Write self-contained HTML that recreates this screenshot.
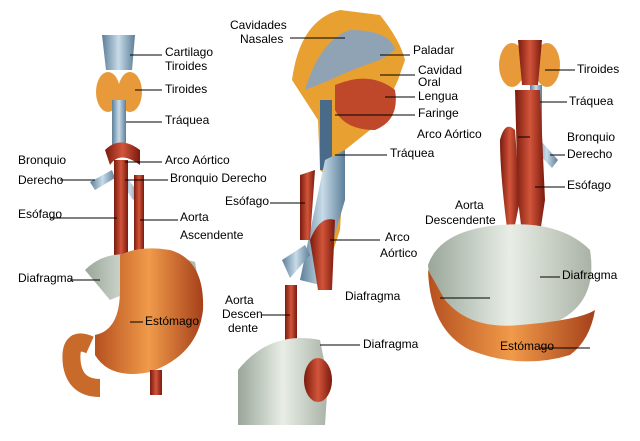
<!DOCTYPE html>
<html><head><meta charset="utf-8"><style>
html,body{margin:0;padding:0;background:#fff;}
#w{position:relative;width:640px;height:441px;overflow:hidden;font-family:"Liberation Sans",sans-serif;font-size:12px;color:#000;}
.t{position:absolute;white-space:nowrap;line-height:13px;}
svg{position:absolute;left:0;top:0;}
</style></head><body><div id="w">
<svg width="640" height="441" viewBox="0 0 640 441">
<defs>
<linearGradient id="or" x1="0" x2="1"><stop offset="0" stop-color="#b5501f"/><stop offset=".5" stop-color="#f09a4a"/><stop offset="1" stop-color="#a5401a"/></linearGradient>
<linearGradient id="rd" x1="0" x2="1"><stop offset="0" stop-color="#7a1a0e"/><stop offset=".5" stop-color="#d2553a"/><stop offset="1" stop-color="#7a1a0e"/></linearGradient>
<linearGradient id="bl" x1="0" x2="1"><stop offset="0" stop-color="#5c7f99"/><stop offset=".5" stop-color="#c8dbe8"/><stop offset="1" stop-color="#5c7f99"/></linearGradient>
<linearGradient id="gr" x1="0" x2="1"><stop offset="0" stop-color="#9aa69a"/><stop offset=".5" stop-color="#e8eee6"/><stop offset="1" stop-color="#aab2a6"/></linearGradient>
</defs>
<!-- LEFT figure -->
<path d="M102 35 L135 35 L132 70 L106 70 Z" fill="url(#bl)"/>
<ellipse cx="108" cy="92" rx="12" ry="20" fill="#e89a3a"/><ellipse cx="130" cy="92" rx="12" ry="20" fill="#e89a3a"/>
<rect x="112" y="100" width="14" height="45" fill="url(#bl)"/>
<path d="M105 150 Q120 135 140 150 L140 165 Q120 150 110 165Z" fill="url(#rd)"/>
<path d="M90 182 L112 170 L115 178 L95 190Z" fill="url(#bl)"/>
<path d="M125 175 L140 195 L133 200 L120 180Z" fill="url(#bl)"/>
<rect x="114" y="160" width="14" height="95" fill="url(#rd)"/>
<rect x="134" y="175" width="10" height="75" fill="url(#rd)"/>
<path d="M85 270 Q110 245 150 260 Q175 255 195 262 L200 290 Q170 275 110 300 Z" fill="url(#gr)"/>
<path d="M90 345 Q68 335 72 365 Q76 388 100 388" fill="none" stroke="#c86a2a" stroke-width="18"/>
<path d="M120 255 Q140 245 170 250 Q205 260 203 310 Q198 355 150 372 Q110 380 95 355 L95 335 Q120 330 120 290 Z" fill="url(#or)"/>
<rect x="150" y="370" width="12" height="25" fill="url(#rd)"/>
<!-- MIDDLE figure -->
<path d="M292 80 Q300 20 340 10 L380 15 Q400 40 405 60 L398 80 Q380 120 370 130 L345 150 L340 230 L330 260 L330 180 L320 170 L318 120 Z" fill="#e8a030"/>
<path d="M305 90 Q320 40 350 30 Q390 30 395 50 L380 60 Q350 70 330 80 Z" fill="#8fa3b4"/>
<path d="M335 85 Q370 70 395 90 Q400 120 375 130 Q345 130 335 110 Z" fill="#c0482a"/>
<rect x="320" y="100" width="12" height="70" fill="#4a6a8a"/>
<path d="M325 160 L345 150 L345 200 L320 285 L300 280 Z" fill="url(#bl)"/>
<path d="M300 175 L315 170 L310 240 L300 240Z" fill="url(#rd)"/>
<path d="M310 240 Q320 215 335 220 L332 290 L318 290Z" fill="url(#rd)"/>
<path d="M282 260 L305 245 L310 255 L290 278Z" fill="url(#bl)"/>
<rect x="285" y="285" width="12" height="55" fill="url(#rd)"/>
<path d="M238 370 Q270 330 320 340 L328 380 L325 425 L238 425 Z" fill="url(#gr)"/>
<ellipse cx="318" cy="380" rx="14" ry="22" fill="url(#rd)"/>
<!-- RIGHT figure -->
<ellipse cx="512" cy="65" rx="13" ry="22" fill="#e89a3a"/><ellipse cx="547" cy="65" rx="13" ry="22" fill="#e89a3a"/>
<path d="M518 40 L542 40 L538 85 L522 85 Z" fill="url(#rd)"/>
<rect x="530" y="85" width="12" height="60" fill="url(#bl)"/>
<path d="M540 140 L558 160 L552 168 L535 150Z" fill="url(#bl)"/>
<path d="M500 140 Q505 120 515 130 L520 200 L510 250 Q500 180 500 140Z" fill="url(#rd)"/>
<path d="M515 90 L540 90 L545 200 L530 300 L518 200 Z" fill="url(#rd)"/>
<path d="M428 265 Q440 230 500 225 Q560 220 590 250 Q598 300 560 320 Q520 330 470 330 Q430 300 428 265Z" fill="url(#gr)"/>
<path d="M428 270 Q430 330 470 350 Q520 370 570 355 Q590 340 595 310 Q580 320 520 325 Q470 330 445 300 Z" fill="url(#or)"/>
<!-- leader lines -->
<g stroke="#000" stroke-width="1">
<line x1="130" y1="55" x2="162" y2="55"/><line x1="135" y1="90" x2="162" y2="90"/><line x1="126" y1="122" x2="162" y2="122"/>
<line x1="125" y1="162" x2="162" y2="162"/><line x1="125" y1="180" x2="168" y2="180"/><line x1="60" y1="180" x2="95" y2="180"/>
<line x1="50" y1="218" x2="117" y2="218"/><line x1="140" y1="220" x2="178" y2="220"/><line x1="70" y1="280" x2="100" y2="280"/>
<line x1="130" y1="322" x2="143" y2="322"/>
<line x1="290" y1="38" x2="345" y2="38"/><line x1="380" y1="55" x2="410" y2="55"/><line x1="380" y1="75" x2="415" y2="75"/>
<line x1="385" y1="97" x2="415" y2="97"/><line x1="335" y1="115" x2="415" y2="115"/><line x1="335" y1="155" x2="387" y2="155"/>
<line x1="270" y1="203" x2="305" y2="203"/><line x1="330" y1="240" x2="380" y2="240"/><line x1="290" y1="315" x2="262" y2="315"/>
<line x1="320" y1="345" x2="360" y2="345"/>
<line x1="545" y1="70" x2="575" y2="70"/><line x1="540" y1="102" x2="567" y2="102"/><line x1="518" y1="137" x2="530" y2="137"/>
<line x1="550" y1="155" x2="565" y2="155"/><line x1="535" y1="187" x2="565" y2="187"/><line x1="540" y1="277" x2="560" y2="277"/>
<line x1="440" y1="298" x2="490" y2="298"/><line x1="540" y1="348" x2="590" y2="348"/>
</g>
</svg>
<div class="t" style="left:230px;top:19px">Cavidades</div><div class="t" style="left:240px;top:33px">Nasales</div>
<div class="t" style="left:165px;top:46px">Cartilago</div><div class="t" style="left:165px;top:60px">Tiroides</div>
<div class="t" style="left:413px;top:44px">Paladar</div>
<div class="t" style="left:418px;top:64px">Cavidad</div><div class="t" style="left:418px;top:76px">Oral</div>
<div class="t" style="left:577px;top:63px">Tiroides</div>
<div class="t" style="left:165px;top:83px">Tiroides</div>
<div class="t" style="left:418px;top:90px">Lengua</div>
<div class="t" style="left:569px;top:95px">Tráquea</div>
<div class="t" style="left:418px;top:107px">Faringe</div>
<div class="t" style="left:165px;top:114px">Tráquea</div>
<div class="t" style="left:567px;top:131px">Bronquio</div><div class="t" style="left:567px;top:148px">Derecho</div>
<div class="t" style="left:417px;top:128px">Arco Aórtico</div>
<div class="t" style="left:390px;top:147px">Tráquea</div>
<div class="t" style="left:18px;top:154px">Bronquio</div><div class="t" style="left:18px;top:174px">Derecho</div>
<div class="t" style="left:165px;top:154px">Arco Aórtico</div>
<div class="t" style="left:170px;top:172px">Bronquio Derecho</div>
<div class="t" style="left:567px;top:179px">Esófago</div>
<div class="t" style="left:225px;top:195px">Esófago</div>
<div class="t" style="left:18px;top:208px">Esófago</div>
<div class="t" style="left:180px;top:211px">Aorta</div><div class="t" style="left:180px;top:229px">Ascendente</div>
<div class="t" style="left:455px;top:199px">Aorta</div><div class="t" style="left:425px;top:214px">Descendente</div>
<div class="t" style="left:385px;top:231px">Arco</div><div class="t" style="left:380px;top:247px">Aórtico</div>
<div class="t" style="left:18px;top:272px">Diafragma</div>
<div class="t" style="left:562px;top:269px">Diafragma</div>
<div class="t" style="left:345px;top:290px">Diafragma</div>
<div class="t" style="left:225px;top:294px">Aorta</div><div class="t" style="left:222px;top:308px">Descen-</div><div class="t" style="left:228px;top:322px">dente</div>
<div class="t" style="left:145px;top:315px">Estómago</div>
<div class="t" style="left:363px;top:338px">Diafragma</div>
<div class="t" style="left:500px;top:340px">Estómago</div>
</div></body></html>
